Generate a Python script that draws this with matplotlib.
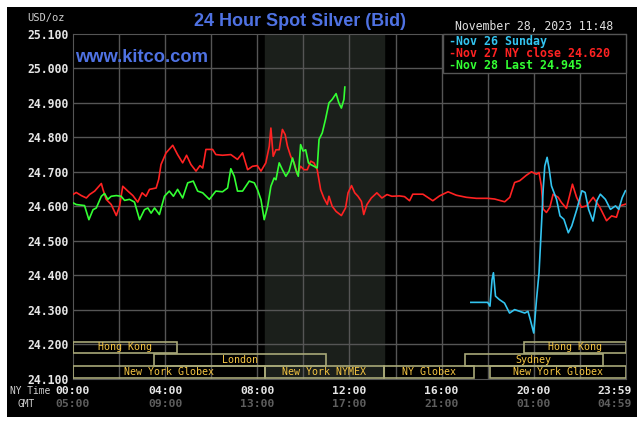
import matplotlib
matplotlib.use("Agg")
import matplotlib.pyplot as plt
from matplotlib.patches import Rectangle
from matplotlib.transforms import blended_transform_factory

# ---- data (hours NY time, USD/oz) ----
red_t = [0, 0.14, 0.36, 0.58, 0.72, 0.94, 1.23, 1.3, 1.44, 1.66,
         1.88, 2.02, 2.16, 2.38, 2.6, 2.81, 3.0, 3.17, 3.32, 3.61,
         3.72, 3.82, 4.04, 4.33, 4.54, 4.76, 4.93, 5.12, 5.34, 5.51,
         5.63, 5.77, 6.06, 6.2, 6.49, 6.85, 7.14, 7.36, 7.58, 7.79,
         8.0, 8.16, 8.37, 8.52, 8.59, 8.69, 8.81, 8.95, 9.09, 9.21,
         9.31, 9.45, 9.6, 9.74, 9.88, 10.03, 10.17, 10.32, 10.46, 10.6,
         10.75, 10.89, 11.04, 11.11, 11.25, 11.42, 11.65, 11.83, 11.94, 12.09,
         12.23, 12.37, 12.52, 12.62, 12.76, 12.95, 13.19, 13.41, 13.63, 13.84,
         14.17, 14.39, 14.61, 14.75, 15.19, 15.62, 15.91, 16.28, 16.64, 17.07,
         17.51, 18.01, 18.3, 18.74, 18.96, 19.17, 19.39, 19.68, 19.9, 20.12,
         20.23, 20.33, 20.41, 20.55, 20.7, 20.84, 21.06, 21.2, 21.42, 21.68,
         21.86, 22.07, 22.29, 22.58, 22.87, 23.16, 23.38, 23.59, 23.74, 23.98]
red_p = [24.634, 24.640, 24.631, 24.624, 24.634, 24.644, 24.666, 24.649, 24.620, 24.605,
         24.573, 24.600, 24.658, 24.644, 24.631, 24.612, 24.639, 24.629, 24.649, 24.653,
         24.678, 24.721, 24.755, 24.777, 24.750, 24.726, 24.748, 24.721, 24.702, 24.718,
         24.711, 24.765, 24.765, 24.750, 24.748, 24.750, 24.736, 24.755, 24.706, 24.716,
         24.718, 24.702, 24.726, 24.774, 24.827, 24.745, 24.764, 24.764, 24.823, 24.808,
         24.774, 24.745, 24.726, 24.692, 24.716, 24.706, 24.706, 24.731, 24.726, 24.706,
         24.648, 24.624, 24.605, 24.629, 24.600, 24.585, 24.573, 24.595, 24.639, 24.660,
         24.639, 24.629, 24.614, 24.576, 24.605, 24.624, 24.639, 24.624, 24.634, 24.629,
         24.630, 24.628, 24.616, 24.635, 24.635, 24.616, 24.630, 24.642, 24.632, 24.626,
         24.623, 24.623, 24.621, 24.613, 24.626, 24.669, 24.674, 24.690, 24.700, 24.693,
         24.698, 24.659, 24.592, 24.582, 24.597, 24.635, 24.626, 24.611, 24.594, 24.664,
         24.626, 24.597, 24.601, 24.626, 24.597, 24.558, 24.572, 24.568, 24.601, 24.606]

green_t = [0, 0.14, 0.5, 0.69, 0.87, 1.01, 1.23, 1.37, 1.51, 1.66,
           1.88, 2.09, 2.24, 2.45, 2.67, 2.89, 3.1, 3.25, 3.39, 3.54,
           3.75, 3.97, 4.18, 4.36, 4.54, 4.76, 4.98, 5.22, 5.41, 5.63,
           5.92, 6.2, 6.49, 6.71, 6.85, 7.0, 7.14, 7.36, 7.65, 7.87,
           8.01, 8.16, 8.30, 8.45, 8.59, 8.73, 8.81, 8.95, 9.09, 9.24,
           9.38, 9.53, 9.67, 9.78, 9.88, 9.99, 10.1, 10.22, 10.32, 10.46,
           10.6, 10.68, 10.82, 10.96, 11.11, 11.25, 11.42, 11.54, 11.65, 11.76,
           11.80]
green_p = [24.610, 24.605, 24.602, 24.561, 24.590, 24.595, 24.629, 24.637, 24.620, 24.629,
           24.631, 24.629, 24.617, 24.620, 24.612, 24.561, 24.590, 24.595, 24.580, 24.595,
           24.576, 24.629, 24.644, 24.629, 24.649, 24.624, 24.668, 24.673, 24.644, 24.639,
           24.620, 24.644, 24.642, 24.653, 24.709, 24.687, 24.644, 24.644, 24.673, 24.668,
           24.648, 24.619, 24.561, 24.600, 24.658, 24.682, 24.677, 24.726, 24.706, 24.687,
           24.702, 24.740, 24.706, 24.687, 24.779, 24.760, 24.764, 24.726, 24.721, 24.716,
           24.711, 24.794, 24.813, 24.852, 24.900, 24.910, 24.927, 24.900, 24.885, 24.910,
           24.946]

blue_t = [17.27, 18.0, 18.1, 18.19, 18.25, 18.34, 18.51, 18.73, 18.95, 19.17,
          19.39, 19.61, 19.75, 19.85, 20.0, 20.12, 20.23, 20.34, 20.41, 20.48,
          20.58, 20.67, 20.77, 20.99, 21.14, 21.31, 21.5, 21.65, 21.87, 22.09,
          22.23, 22.38, 22.57, 22.74, 22.89, 23.11, 23.33, 23.55, 23.69, 23.84,
          23.98]
blue_p = [24.321, 24.321, 24.310, 24.387, 24.407, 24.339, 24.329, 24.319, 24.290, 24.300,
          24.295, 24.290, 24.295, 24.271, 24.232, 24.329, 24.407, 24.552, 24.650, 24.717,
          24.742, 24.708, 24.659, 24.620, 24.572, 24.562, 24.523, 24.543, 24.591, 24.645,
          24.640, 24.591, 24.557, 24.616, 24.635, 24.620, 24.591, 24.601, 24.591, 24.625,
          24.645]

legend_labels = ["Nov 26 Sunday", "Nov 27 NY close 24.620", "Nov 28 Last 24.945"]

yticks = [24.1, 24.2, 24.3, 24.4, 24.5, 24.6, 24.7, 24.8, 24.9, 25.0, 25.1]
xticks = [0, 4, 8, 12, 16, 20, 23.983]
ny_labels = ["00:00", "04:00", "08:00", "12:00", "16:00", "20:00", "23:59"]
gmt_labels = ["05:00", "09:00", "13:00", "17:00", "21:00", "01:00", "04:59"]

# market sessions: name, row (0 = top), start hour, end hour
sess_names = ["Hong Kong", "Hong Kong", "London", "Sydney",
              "New York Globex", "New York NYMEX", "NY Globex", "New York Globex"]
sess_rows = [0, 0, 1, 1, 2, 2, 2, 2]
sess_start = [0, 19.58, 3.5, 17.0, 0, 8.33, 13.5, 18.1]
sess_end = [4.5, 23.983, 11.0, 23.0, 8.33, 13.5, 17.4, 23.983]
nymex_open, nymex_close = 8.33, 13.5

W, H = 644, 423
MONO = "DejaVu Sans Mono"
GRID = "#555555"
RED, GREEN, BLUE = "#ff2222", "#33ff33", "#33c4f0"


def fx(x):
    return x / W


def fy(y):
    return 1 - y / H


fig = plt.figure(figsize=(W / 100, H / 100), dpi=100, facecolor="white")
fig.patches.append(Rectangle((fx(7), fy(417)), 630 / W, 410 / H, facecolor="black",
                             edgecolor="none", transform=fig.transFigure, zorder=-5))

ax = fig.add_axes([fx(73), fy(378.5), (625.5 - 73) / W, (378.5 - 34) / H])
ax.set_facecolor("black")
ax.set_xlim(0, 23.983)
ax.set_ylim(24.1, 25.1)

ax.axvspan(nymex_open, nymex_close, color="#1b1f1b", zorder=0)
for t in range(2, 24, 2):
    ax.axvline(t, color=GRID, lw=1, zorder=1)
for v in yticks[1:-1]:
    ax.axhline(v, color=GRID, lw=1, zorder=1)
for s in ax.spines.values():
    s.set_color(GRID)

ax.plot(red_t, red_p, color=RED, lw=1.2, zorder=3)
ax.plot(blue_t, blue_p, color=BLUE, lw=1.2, zorder=4)
ax.plot(green_t, green_p, color=GREEN, lw=1.2, zorder=5)

# session boxes along the bottom
row_h = 0.036
for name, r, a, b in zip(sess_names, sess_rows, sess_start, sess_end):
    y0 = 24.1 + (2 - r) * row_h + 0.001
    ax.add_patch(Rectangle((a, y0), b - a, row_h - 0.002, facecolor="none",
                           edgecolor="#a8a878", lw=1.2, zorder=6))
    ax.text((a + b) / 2, y0 + row_h / 2 - 0.001, name, color="#f5c542", family=MONO,
            fontsize=7.2, ha="center", va="center", zorder=7)

ax.set_yticks(yticks)
ax.set_yticklabels(["%.3f" % v for v in yticks], family=MONO, fontsize=8.3,
                   fontweight="bold", color="#e6e6e6")
ax.set_xticks([])
ax.tick_params(axis="y", length=0, pad=3)

# time labels under the axis; the last one is pulled in to stay inside the frame
tr = blended_transform_factory(ax.transData, fig.transFigure)
for i, (t, a, b) in enumerate(zip(xticks, ny_labels, gmt_labels)):
    last = i == len(xticks) - 1
    kw = dict(ha="right" if last else "center", va="center", family=MONO,
              fontsize=8.2, fontweight="bold", clip_on=False)
    if last:
        ax.text(fx(632), fy(390.5), a, transform=fig.transFigure, color="#e6e6e6", **kw)
        ax.text(fx(632), fy(404), b, transform=fig.transFigure, color="#5e5e5e", **kw)
    else:
        ax.text(t, fy(390.5), a, transform=tr, color="#e6e6e6", **kw)
        ax.text(t, fy(404), b, transform=tr, color="#5e5e5e", **kw)
fig.text(fx(9.5), fy(391), "NY Time", family=MONO, fontsize=6.9, color="#d0d0d0", va="center")
fig.text(fx(18), fy(404), "GMT", family=MONO, fontsize=6.9, color="#d0d0d0", va="center")

fig.text(fx(27), fy(18), "USD/oz", family=MONO, fontsize=7.5, color="#d0d0d0", va="center")
fig.text(fx(300.5), fy(22), "24 Hour Spot Silver (Bid)", family="Liberation Sans",
         fontsize=13, fontweight="bold", color="#4f72e3", ha="center", va="center")
fig.text(fx(75), fy(57), "www.kitco.com", family="Liberation Sans", fontsize=13.2,
         fontweight="bold", color="#4f72e3", va="center")
fig.text(fx(455), fy(27), "November 28, 2023 11:48", family=MONO, fontsize=8.3,
         color="#e0e0e0", va="center")

# legend box in top right
fig.patches.append(Rectangle((fx(442.5), fy(73)), (625.5 - 442.5) / W, 39 / H, facecolor="black",
                             edgecolor=GRID, lw=1, transform=fig.transFigure, zorder=10))
for i, (lab, c) in enumerate(zip(legend_labels, [BLUE, RED, GREEN])):
    fig.text(fx(449), fy(41.5 + i * 11.8), "-" + lab, family=MONO, fontsize=8.4,
             fontweight="bold", color=c, va="center", zorder=11)

fig.savefig("out.png", dpi=100, facecolor="white")
